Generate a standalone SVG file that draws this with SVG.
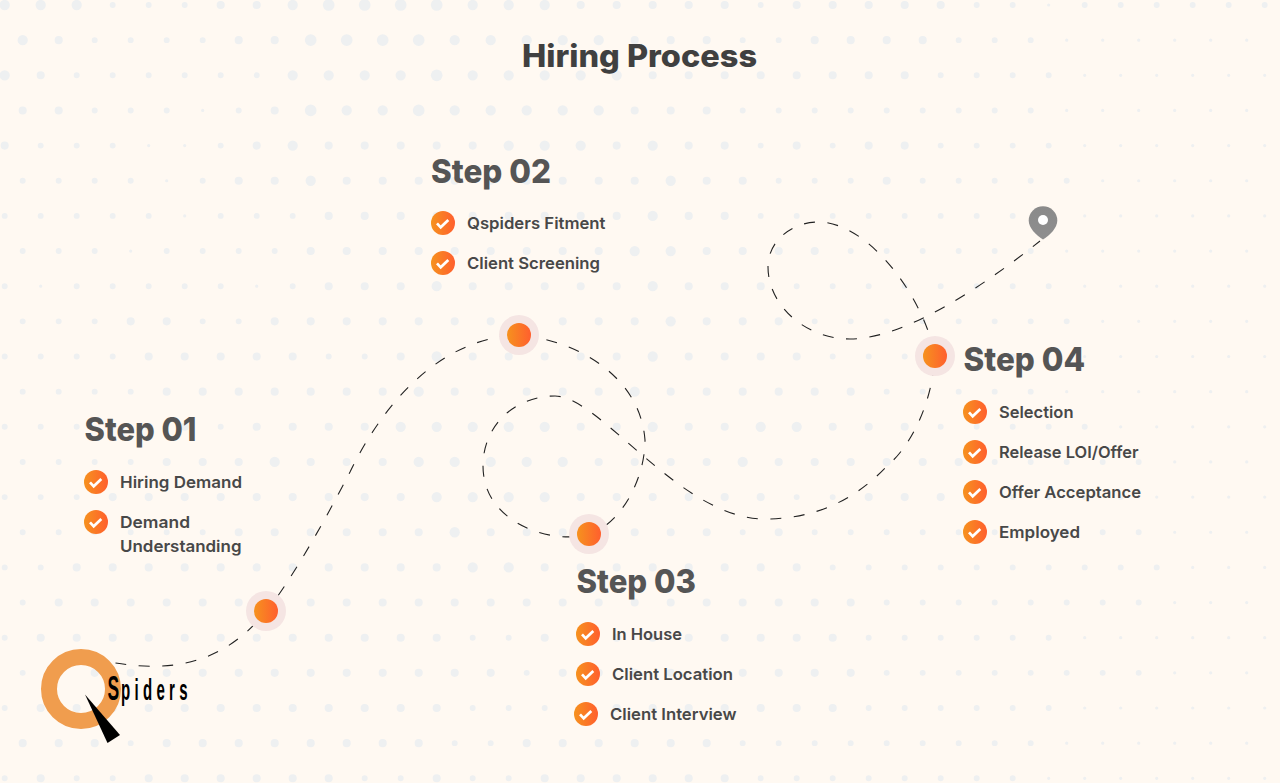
<svg xmlns="http://www.w3.org/2000/svg" xmlns:xlink="http://www.w3.org/1999/xlink" width="1280" height="783" viewBox="0 0 1280 783">
<style>
.bgd path{fill:none;stroke:#eef0f1;stroke-linecap:round;stroke-dasharray:0 1}
.a{stroke-width:.09}.b{stroke-width:.165}.c{stroke-width:.225}.d{stroke-width:.285}.e{stroke-width:.325}
.t{font-family:Inter,"Liberation Sans",sans-serif}
.title{font-size:31px;font-weight:800;fill:#404040}
.step{font-size:33px;font-weight:800;fill:#555}
.item{font-size:16.5px;font-weight:600;fill:#484848}
.halo{fill:#f5e5e3}
.core{fill:url(#og)}
#conn path{fill:none;stroke:#222;stroke-width:1.1;stroke-dasharray:11 12.5}
</style>
<defs>
<linearGradient id="og" x1="0" y1="0" x2="1" y2="0"><stop offset="0" stop-color="#f6921e"/><stop offset="1" stop-color="#ff5f2e"/></linearGradient>
<linearGradient id="pg" x1="0" y1="0" x2="0" y2="1"><stop offset="0" stop-color="#8a8a8a"/><stop offset="1" stop-color="#8e8e8e"/></linearGradient>
<g id="chk"><circle r="12" fill="url(#og)"/><path d="M-6 .3L-2.3 4.3L5.3-3" fill="none" stroke="#fff" stroke-width="2.7"/></g>
<g id="pt"><circle r="20" class="halo"/><circle r="12" class="core"/></g>
</defs>
<rect width="1280" height="783" fill="#fff9f2"/>
<g class="bgd" id="dots">
<g transform="translate(4.7 5) scale(36)"><path class="a" d="M29 0h.01"/><path class="b" d="M3 0H5.01M21 0h.01M27 0H28.01M30 0H35.01"/><path class="c" d="M6 0H7.01M16 0H20.01M22 0H26.01"/><path class="d" d="M0 0H2.01M8 0h.01M13 0H15.01"/><path class="e" d="M9 0H12.01"/></g>
<g transform="translate(22.7 40.15) scale(36)"><path class="a" d="M29 0H34.01"/><path class="b" d="M2 0H5.01M20 0H21.01M26 0H28.01"/><path class="c" d="M1 0h.01M6 0H7.01M17 0H19.01M22 0H25.01"/><path class="d" d="M0 0h.01M12 0H16.01"/><path class="e" d="M8 0H11.01"/></g>
<g transform="translate(4.7 75.3) scale(36)"><path class="a" d="M30 0H35.01"/><path class="b" d="M2 0H7.01M26 0H29.01"/><path class="c" d="M1 0h.01M18 0H25.01"/><path class="d" d="M0 0h.01M8 0H11.01M13 0H17.01"/><path class="e" d="M12 0h.01"/></g>
<g transform="translate(22.7 110.45) scale(36)"><path class="a" d="M5 0h.01M29 0H34.01"/><path class="b" d="M2 0H4.01M6 0h.01M20 0H28.01"/><path class="c" d="M0 0H1.01M7 0h.01M17 0H19.01"/><path class="d" d="M9 0H10.01M12 0H16.01"/><path class="e" d="M8 0h.01M11 0h.01"/></g>
<g transform="translate(4.7 145.6) scale(36)"><path class="a" d="M4 0H5.01M30 0H35.01"/><path class="b" d="M1 0H3.01M6 0h.01M21 0h.01M23 0h.01M26 0H29.01"/><path class="c" d="M0 0h.01M7 0h.01M9 0H13.01M17 0h.01M19 0H20.01M22 0h.01M24 0H25.01"/><path class="d" d="M8 0h.01M14 0H16.01M18 0h.01"/></g>
<g transform="translate(22.7 180.75) scale(36)"><path class="a" d="M4 0h.01M30 0H34.01"/><path class="b" d="M0 0H3.01M5 0h.01M21 0H23.01M25 0H29.01"/><path class="c" d="M6 0H7.01M9 0H17.01M19 0H20.01M24 0h.01"/><path class="d" d="M8 0h.01M18 0h.01"/></g>
<g transform="translate(4.7 215.9) scale(36)"><path class="a" d="M5 0h.01M29 0H35.01"/><path class="b" d="M0 0H4.01M6 0H8.01M21 0H28.01"/><path class="c" d="M9 0H17.01M19 0H20.01"/><path class="d" d="M18 0h.01"/></g>
<g transform="translate(22.7 251.05) scale(36)"><path class="a" d="M3 0h.01M29 0H34.01"/><path class="b" d="M0 0H2.01M4 0H7.01M23 0H28.01"/><path class="c" d="M8 0H16.01M19 0H22.01"/><path class="d" d="M17 0H18.01"/></g>
<g transform="translate(4.7 286.2) scale(36)"><path class="a" d="M1 0h.01M7 0h.01M30 0H35.01"/><path class="b" d="M0 0h.01M2 0H6.01M8 0h.01M22 0H29.01"/><path class="c" d="M9 0H11.01M13 0H17.01M19 0H21.01"/><path class="d" d="M12 0h.01M18 0h.01"/></g>
<g transform="translate(22.7 321.35) scale(36)"><path class="a" d="M30 0H34.01"/><path class="b" d="M0 0H2.01M5 0H6.01M22 0H29.01"/><path class="c" d="M3 0H4.01M7 0H17.01M19 0H21.01"/><path class="d" d="M18 0h.01"/></g>
<g transform="translate(4.7 356.5) scale(36)"><path class="a" d="M29 0H35.01"/><path class="b" d="M0 0H3.01M9 0H10.01M23 0H28.01"/><path class="c" d="M4 0H8.01M11 0h.01M13 0H17.01M19 0H22.01"/><path class="d" d="M12 0h.01M18 0h.01"/></g>
<g transform="translate(22.7 391.65) scale(36)"><path class="a" d="M29 0H34.01"/><path class="b" d="M0 0H3.01M24 0H28.01"/><path class="c" d="M4 0H10.01M12 0H16.01M18 0H23.01"/><path class="d" d="M11 0h.01M17 0h.01"/></g>
<g transform="translate(4.7 426.8) scale(36)"><path class="a" d="M31 0H35.01"/><path class="b" d="M0 0H3.01M6 0h.01M26 0H30.01"/><path class="c" d="M4 0H5.01M7 0H10.01M16 0H17.01M19 0H20.01M23 0H25.01"/><path class="d" d="M11 0H15.01M18 0h.01M21 0H22.01"/></g>
<g transform="translate(22.7 461.95) scale(36)"><path class="a" d="M32 0H34.01"/><path class="b" d="M0 0H3.01M27 0H31.01"/><path class="c" d="M4 0H6.01M8 0H10.01M16 0H19.01M21 0H26.01"/><path class="d" d="M7 0h.01M11 0H15.01M20 0h.01"/></g>
<g transform="translate(4.7 497.1) scale(36)"><path class="a" d="M32 0H35.01"/><path class="b" d="M0 0H2.01M22 0H23.01M27 0H31.01"/><path class="c" d="M3 0H11.01M16 0H21.01M24 0H26.01"/><path class="d" d="M12 0H15.01"/></g>
<g transform="translate(22.7 532.25) scale(36)"><path class="a" d="M32 0H34.01"/><path class="b" d="M0 0H5.01M20 0h.01M22 0H31.01"/><path class="c" d="M6 0H11.01M13 0H19.01M21 0h.01"/><path class="d" d="M12 0h.01"/></g>
<g transform="translate(4.7 567.4) scale(36)"><path class="a" d="M33 0H35.01"/><path class="b" d="M0 0H1.01M23 0H32.01"/><path class="c" d="M2 0H12.01M15 0H22.01"/><path class="d" d="M13 0H14.01"/></g>
<g transform="translate(22.7 602.55) scale(36)"><path class="a" d="M32 0H34.01"/><path class="b" d="M0 0h.01M24 0H31.01"/><path class="c" d="M1 0H23.01"/></g>
<g transform="translate(4.7 637.7) scale(36)"><path class="a" d="M30 0H35.01"/><path class="b" d="M0 0h.01M13 0H14.01M24 0H29.01"/><path class="c" d="M1 0H12.01M15 0H23.01"/></g>
<g transform="translate(22.7 672.85) scale(36)"><path class="a" d="M32 0H34.01"/><path class="b" d="M0 0h.01M14 0h.01M24 0H31.01"/><path class="c" d="M1 0H13.01M15 0H23.01"/></g>
<g transform="translate(4.7 708) scale(36)"><path class="a" d="M30 0H35.01"/><path class="b" d="M0 0h.01M13 0H15.01M24 0H29.01"/><path class="c" d="M1 0H12.01M16 0H23.01"/></g>
<g transform="translate(22.7 743.15) scale(36)"><path class="a" d="M29 0H34.01"/><path class="b" d="M3 0h.01M12 0H13.01M20 0H28.01"/><path class="c" d="M0 0H2.01M4 0H11.01M14 0H19.01"/></g>
<g transform="translate(4.7 778.3) scale(36)"><path class="a" d="M29 0H35.01"/><path class="b" d="M0 0h.01M2 0H3.01M10 0H11.01M13 0H14.01M21 0H28.01"/><path class="c" d="M1 0h.01M4 0H9.01M12 0h.01M15 0H20.01"/></g>
</g>
<text class="t title" x="522" y="67" textLength="235" lengthAdjust="spacingAndGlyphs">Hiring Process</text>
<g id="conn"><path d="M115.5 663C150 668,215 676,266 611C285 590,320 530,350 472C375 420,430 338,519 335C575 340,640 375,645 440C645 480,620 525,589 534C555 545,483 525,483 466C483 425,515 396,555 396C600 396,680 519,765 519C815 519,855 500,887 466C910 447,932 405,935 356C925 300,870 222,818 222C793 222,768 240,768 267C768 305,805 339,850 339C905 339,985 285,1040 241"/></g>
<g id="logo">
<circle cx="81" cy="689" r="32" fill="none" stroke="#f09d4e" stroke-width="16"/>
<path d="M85 694.5L120 735L107.5 743Z" fill="#000"/>
<g font-family="'Liberation Sans',sans-serif" font-weight="700" fill="#000"><text transform="translate(107.5 700) scale(.5 1)" font-size="35">S</text><text transform="translate(121 700) scale(.5 1)" font-size="30" letter-spacing="8.6">piders</text></g>
</g>
<g id="step1"><use href="#pt" x="266" y="611"/>
<text class="t step" x="84.5" y="441" textLength="112" lengthAdjust="spacingAndGlyphs">Step 01</text>
<use href="#chk" x="96" y="482"/><text class="t item" x="120" y="488" textLength="122" lengthAdjust="spacingAndGlyphs">Hiring Demand</text>
<use href="#chk" x="96" y="522"/><text class="t item" x="120" y="528" textLength="70" lengthAdjust="spacingAndGlyphs">Demand</text>
<text class="t item" x="120" y="552" textLength="121.5" lengthAdjust="spacingAndGlyphs">Understanding</text></g>
<g id="step2"><use href="#pt" x="519" y="335"/>
<text class="t step" x="431" y="183" textLength="120" lengthAdjust="spacingAndGlyphs">Step 02</text>
<use href="#chk" x="443" y="223"/><text class="t item" x="467" y="229" textLength="138.5" lengthAdjust="spacingAndGlyphs">Qspiders Fitment</text>
<use href="#chk" x="443" y="263"/><text class="t item" x="467" y="269" textLength="133" lengthAdjust="spacingAndGlyphs">Client Screening</text></g>
<g id="step3"><use href="#pt" x="589" y="534"/>
<text class="t step" x="576.5" y="593" textLength="119.5" lengthAdjust="spacingAndGlyphs">Step 03</text>
<use href="#chk" x="588" y="634"/><text class="t item" x="612" y="640" textLength="70" lengthAdjust="spacingAndGlyphs">In House</text>
<use href="#chk" x="588" y="674"/><text class="t item" x="612" y="680" textLength="121" lengthAdjust="spacingAndGlyphs">Client Location</text>
<use href="#chk" x="586" y="714"/><text class="t item" x="610" y="720" textLength="126.5" lengthAdjust="spacingAndGlyphs">Client Interview</text></g>
<g id="step4"><use href="#pt" x="935" y="356"/>
<text class="t step" x="963.5" y="371" textLength="121.5" lengthAdjust="spacingAndGlyphs">Step 04</text>
<use href="#chk" x="975" y="412"/><text class="t item" x="999" y="418" textLength="74.5" lengthAdjust="spacingAndGlyphs">Selection</text>
<use href="#chk" x="975" y="452"/><text class="t item" x="999" y="458" textLength="139.5" lengthAdjust="spacingAndGlyphs">Release LOI/Offer</text>
<use href="#chk" x="975" y="492"/><text class="t item" x="999" y="498" textLength="142" lengthAdjust="spacingAndGlyphs">Offer Acceptance</text>
<use href="#chk" x="975" y="532"/><text class="t item" x="999" y="538" textLength="81" lengthAdjust="spacingAndGlyphs">Employed</text></g>
<g id="pin"><path d="M1043 239.5C1036 235,1028.7 228,1028.7 220.5A14.3 14.3 0 0 1 1057.3 220.5C1057.3 228,1050 235,1043 239.5Z" fill="url(#pg)"/><circle cx="1043" cy="220" r="5" fill="#fff"/></g>
</svg>
